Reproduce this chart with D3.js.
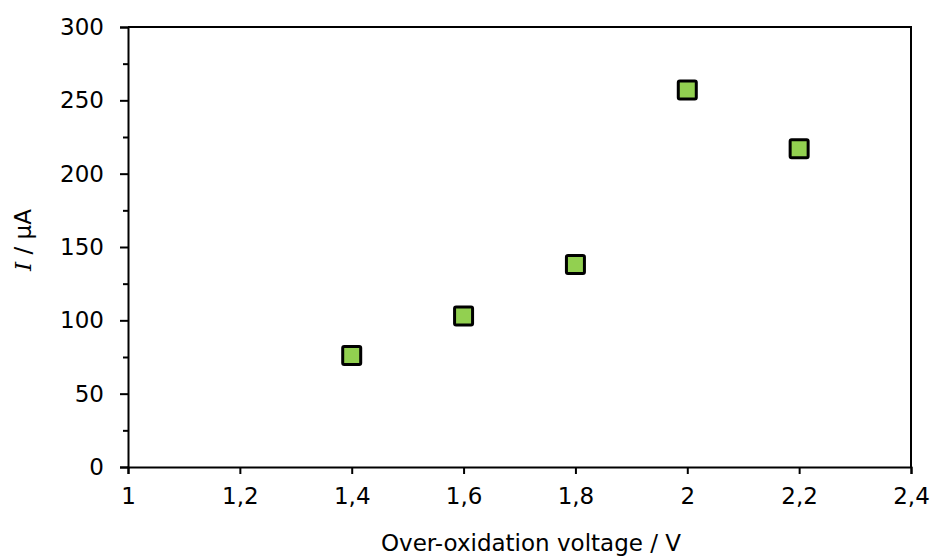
<!DOCTYPE html>
<html>
<head>
<meta charset="utf-8">
<script src="https://cdn.jsdelivr.net/npm/d3@7"></script>
<style>
body { margin: 0; background: #fff; }
svg text { font-family: "DejaVu Sans", Verdana, sans-serif; fill: #000; }
</style>
</head>
<body>
<svg id="chart" width="935" height="557"></svg>
<script>
// voltage vs current
var voltage = [1.4, 1.6, 1.8, 2.0, 2.2];
var current = [76, 103, 138, 257, 217];
var xTicks = [1, 1.2, 1.4, 1.6, 1.8, 2, 2.2, 2.4];
var yTicks = [0, 50, 100, 150, 200, 250, 300];
var yMinor = [25, 75, 125, 175, 225, 275];

var svg = d3.select("#chart");
var pLeft = 128, pRight = 911, pTop = 27, pBottom = 467;

var x = d3.scaleLinear().domain([1, 2.4]).range([pLeft, pRight]);
var y = d3.scaleLinear().domain([0, 300]).range([pBottom, pTop]);

var fmt = function(d){ return String(d).replace(".", ","); };

// plot border (top/right)
svg.append("path")
	.attr("d", "M" + pLeft + "," + pTop + "H" + pRight + "V" + pBottom)
	.attr("fill", "none").attr("stroke", "#000").attr("stroke-width", 2);

var yAxis = svg.append("g").attr("transform", "translate(" + pLeft + ",0)")
	.call(d3.axisLeft(y).tickValues(yTicks).tickSize(8).tickPadding(16));
var yAxisMinor = svg.append("g").attr("transform", "translate(" + pLeft + ",0)")
	.call(d3.axisLeft(y).tickValues(yMinor).tickSize(5).tickFormat(""));
var xAxis = svg.append("g").attr("transform", "translate(0," + pBottom + ")")
	.call(d3.axisBottom(x).tickValues(xTicks).tickSize(7).tickPadding(14).tickFormat(fmt));

[yAxis, yAxisMinor, xAxis].forEach(function(g){
	g.select(".domain").attr("stroke", "#000").attr("stroke-width", 2);
	g.selectAll(".tick line").attr("stroke", "#000").attr("stroke-width", 2);
	g.selectAll("text").style("font-size", "23px").attr("fill", "#000");
});
yAxisMinor.select(".domain").remove();

// points
svg.append("g").selectAll("rect")
	.data(voltage)
	.enter().append("rect")
	.attr("x", function(d){ return x(d) - 9; })
	.attr("y", function(d, i){ return y(current[i]) - 9; })
	.attr("width", 18).attr("height", 18)
	.attr("rx", 1.5)
	.attr("fill", "#92D050")
	.attr("stroke", "#000").attr("stroke-width", 3);

// titles
svg.append("text")
	.attr("x", 531).attr("y", 551)
	.attr("text-anchor", "middle")
	.style("font-size", "23px")
	.text("Over-oxidation voltage / V");

var yl = svg.append("text")
	.attr("transform", "translate(31,240) rotate(-90)")
	.attr("text-anchor", "middle")
	.style("font-size", "23px");
yl.append("tspan").style("font-family", "'DejaVu Serif', serif").style("font-style", "italic").text("I");
yl.append("tspan").text(" / µA");
</script>
</body>
</html>
